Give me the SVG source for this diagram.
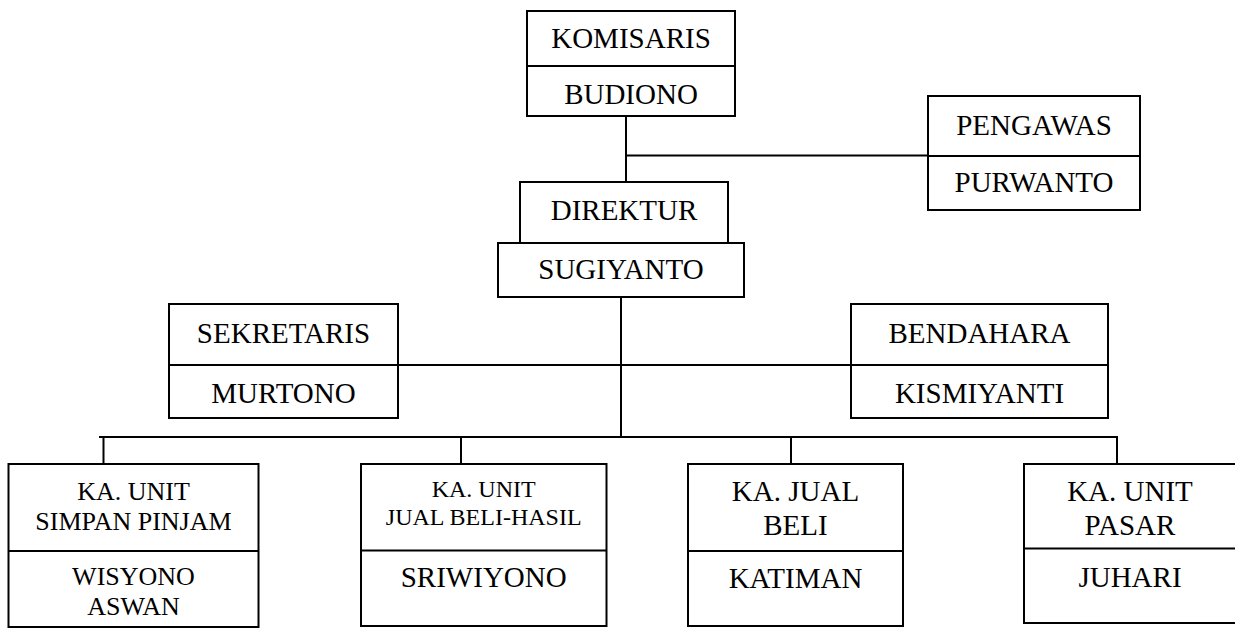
<svg xmlns="http://www.w3.org/2000/svg" width="1235" height="630" viewBox="0 0 1235 630">
<style>
.box{fill:#fff;stroke:#000;stroke-width:2}
.div{stroke:#000;stroke-width:2}
.ln{stroke:#000;stroke-width:2;fill:none}
text{font-family:"Liberation Serif","Times New Roman",serif;font-size:29px;fill:#000;text-anchor:middle}
.s26{font-size:26px}
.s24{font-size:24px}
</style>
<rect width="1235" height="630" fill="#fff"/>
<g id="connectors">
<line class="ln" x1="626" y1="116" x2="626" y2="182"/>
<line class="ln" x1="626" y1="155.5" x2="928" y2="155.5"/>
<line class="ln" x1="621" y1="297" x2="621" y2="437"/>
<line class="ln" x1="398" y1="365" x2="851" y2="365"/>
<line class="ln" x1="99" y1="437" x2="1117" y2="437"/>
<line class="ln" x1="103.5" y1="437" x2="103.5" y2="464"/>
<line class="ln" x1="461" y1="437" x2="461" y2="464"/>
<line class="ln" x1="791" y1="437" x2="791" y2="464"/>
<line class="ln" x1="1117" y1="436" x2="1117" y2="464"/>
</g>
<g id="komisaris">
<rect class="box" x="527" y="11" width="208" height="105"/>
<line class="div" x1="527" y1="66" x2="735" y2="66"/>
<text x="631" y="48">KOMISARIS</text>
<text x="631" y="104">BUDIONO</text>
</g>
<g id="pengawas">
<rect class="box" x="928" y="96" width="212" height="114"/>
<line class="div" x1="928" y1="156" x2="1140" y2="156"/>
<text x="1034" y="135">PENGAWAS</text>
<text x="1034" y="192">PURWANTO</text>
</g>
<g id="direktur">
<rect class="box" x="520" y="182" width="208" height="61"/>
<text x="624" y="220">DIREKTUR</text>
</g>
<g id="sugiyanto">
<rect class="box" x="498" y="243" width="246" height="54"/>
<text x="621" y="279">SUGIYANTO</text>
</g>
<g id="sekretaris">
<rect class="box" x="169" y="304" width="229" height="114"/>
<line class="div" x1="169" y1="365" x2="398" y2="365"/>
<text x="283.5" y="343">SEKRETARIS</text>
<text x="283.5" y="403">MURTONO</text>
</g>
<g id="bendahara">
<rect class="box" x="851" y="304" width="257" height="114"/>
<line class="div" x1="851" y1="365" x2="1108" y2="365"/>
<text x="979.5" y="343">BENDAHARA</text>
<text x="979.5" y="403">KISMIYANTI</text>
</g>
<g id="unit-simpan-pinjam">
<rect class="box" x="8.5" y="464" width="250" height="163"/>
<line class="div" x1="8.5" y1="551" x2="258.5" y2="551"/>
<text class="s26" x="133.5" y="500">KA. UNIT</text>
<text class="s26" x="133.5" y="530">SIMPAN PINJAM</text>
<text class="s26" x="133.5" y="585">WISYONO</text>
<text class="s26" x="133.5" y="615">ASWAN</text>
</g>
<g id="unit-jual-beli-hasil">
<rect class="box" x="361" y="464" width="245.5" height="162"/>
<line class="div" x1="361" y1="550.5" x2="606.5" y2="550.5"/>
<text class="s24" x="483.7" y="497">KA. UNIT</text>
<text class="s24" x="483.7" y="525">JUAL BELI-HASIL</text>
<text x="483.7" y="587">SRIWIYONO</text>
</g>
<g id="jual-beli">
<rect class="box" x="688" y="464" width="215" height="162"/>
<line class="div" x1="688" y1="551" x2="903" y2="551"/>
<text x="795.5" y="501">KA. JUAL</text>
<text x="795.5" y="535">BELI</text>
<text x="795.5" y="588">KATIMAN</text>
</g>
<g id="unit-pasar">
<rect class="box" x="1024" y="464" width="213" height="159"/>
<line class="div" x1="1024" y1="548.5" x2="1237" y2="548.5"/>
<text x="1130" y="501">KA. UNIT</text>
<text x="1130" y="535">PASAR</text>
<text x="1130" y="587">JUHARI</text>
</g>
</svg>
